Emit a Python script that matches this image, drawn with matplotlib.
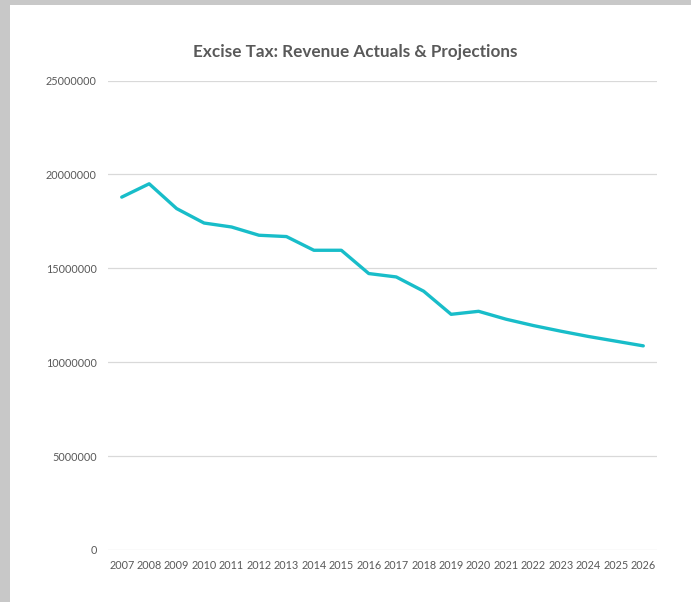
import matplotlib.pyplot as plt
from matplotlib.patches import Rectangle

years = [str(y) for y in range(2007, 2027)]
revenue = [18790000, 19500000, 18180000, 17410000, 17200000, 16760000, 16690000,
           15960000, 15960000, 14720000, 14540000, 13780000, 12550000, 12710000,
           12290000, 11950000, 11650000, 11370000, 11120000, 10870000]
yticks = [0, 5000000, 10000000, 15000000, 20000000, 25000000]

plt.rcParams['font.family'] = ['Lato', 'DejaVu Sans']

fig = plt.figure(figsize=(6.91, 6.02), dpi=100)
fig.patch.set_facecolor("#C8C8C8")
# white chart area inside the grey frame
fig.patches.append(Rectangle((10 / 691, 0), 1, 1 - 5 / 602, transform=fig.transFigure,
                             facecolor="white", edgecolor="none", zorder=-1))

ax = fig.add_axes([108 / 691, 1 - 550 / 602, (657 - 108) / 691, (550 - 80.5) / 602])
ax.set_facecolor("none")

x = list(range(len(years)))
ax.plot(x, revenue, color="#18BDC9", linewidth=2.4, solid_capstyle="round", zorder=3)

ax.set_xlim(-0.5, len(years) - 0.5)
ax.set_ylim(0, 25000000)
ax.set_xticks(x)
ax.set_xticklabels(years)
ax.set_yticks(yticks)
ax.set_yticklabels([str(v) for v in yticks])
ax.tick_params(length=0, labelsize=7.8, labelcolor="#595959")
ax.tick_params(axis="y", pad=8)
ax.tick_params(axis="x", pad=7)
ax.grid(axis="y", color="#D9D9D9", linewidth=0.9)
ax.set_axisbelow(True)
for s in ax.spines.values():
    s.set_visible(False)

fig.text(355 / 691, 1 - 52 / 602, "Excise Tax: Revenue Actuals & Projections",
         ha="center", va="center", fontsize=12.3, fontweight="bold", color="#595959")

fig.savefig("out.png", dpi=100)
